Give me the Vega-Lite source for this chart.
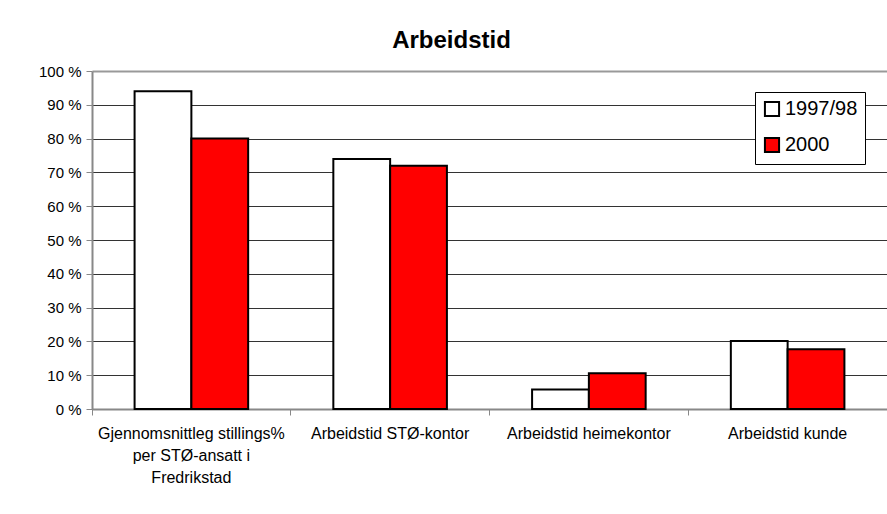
{
  "$schema": "https://vega.github.io/schema/vega-lite/v6.json",
  "autosize": {"type": "none"},
  "padding": {"left": 92, "top": 71, "right": 0, "bottom": 105},
  "width": 795,
  "height": 338,
  "background": "white",
  "title": {
    "text": "Arbeidstid",
    "font": "Liberation Sans",
    "fontSize": 24,
    "fontWeight": "bold",
    "color": "#000",
    "anchor": "middle",
    "dx": -38,
    "offset": 11
  },
  "data": {
    "values": [
      {"kategori": "Gjennomsnittleg stillings%|per STØ-ansatt i|Fredrikstad", "periode": "1997/98", "andel": 94},
      {"kategori": "Gjennomsnittleg stillings%|per STØ-ansatt i|Fredrikstad", "periode": "2000", "andel": 80},
      {"kategori": "Arbeidstid STØ-kontor", "periode": "1997/98", "andel": 74},
      {"kategori": "Arbeidstid STØ-kontor", "periode": "2000", "andel": 72},
      {"kategori": "Arbeidstid heimekontor", "periode": "1997/98", "andel": 5.8},
      {"kategori": "Arbeidstid heimekontor", "periode": "2000", "andel": 10.6},
      {"kategori": "Arbeidstid kunde", "periode": "1997/98", "andel": 20.1},
      {"kategori": "Arbeidstid kunde", "periode": "2000", "andel": 17.7}
    ]
  },
  "mark": {"type": "bar", "stroke": "#000", "strokeWidth": 2},
  "encoding": {
    "x": {
      "field": "kategori",
      "type": "nominal",
      "sort": null,
      "scale": {"paddingInner": 0, "paddingOuter": 0},
      "axis": {
        "title": null,
        "labelAngle": 0,
        "labelExpr": "split(datum.label, '|')",
        "labelLineHeight": 22,
        "labelFont": "Liberation Sans",
        "labelFontSize": 16,
        "labelColor": "#000",
        "labelPadding": 10,
        "labelLimit": 300,
        "bandPosition": 0,
        "tickColor": "#888",
        "tickSize": 6,
        "domainColor": "#888",
        "domainWidth": 2,
        "grid": false
      }
    },
    "xOffset": {
      "field": "periode",
      "type": "nominal",
      "scale": {"paddingInner": 0, "paddingOuter": 0.75}
    },
    "y": {
      "field": "andel",
      "type": "quantitative",
      "scale": {"domain": [0, 100], "nice": false},
      "axis": {
        "title": null,
        "values": [0, 10, 20, 30, 40, 50, 60, 70, 80, 90, 100],
        "labelExpr": "datum.value + ' %'",
        "labelFont": "Liberation Sans",
        "labelFontSize": 15,
        "labelColor": "#000",
        "labelPadding": 5,
        "tickColor": "#888",
        "tickSize": 6,
        "domainColor": "#888",
        "domainWidth": 2,
        "gridColor": {"condition": {"test": "datum.value === 100", "value": "#999"}, "value": "#333"},
        "gridWidth": {"condition": {"test": "datum.value === 100", "value": 2}, "value": 1}
      }
    },
    "fill": {
      "field": "periode",
      "type": "nominal",
      "scale": {"domain": ["1997/98", "2000"], "range": ["#ffffff", "#ff0000"]},
      "legend": {
        "title": null,
        "orient": "none",
        "legendX": 663,
        "legendY": 21,
        "symbolType": "square",
        "symbolSize": 200,
        "symbolStrokeColor": "#000",
        "symbolStrokeWidth": 2,
        "labelFont": "Liberation Sans",
        "labelFontSize": 20,
        "labelColor": "#000",
        "labelOffset": 3,
        "rowPadding": 12,
        "strokeColor": "#000",
        "fillColor": "#fff",
        "padding": 7
      }
    }
  },
  "config": {"view": {"stroke": null}}
}
